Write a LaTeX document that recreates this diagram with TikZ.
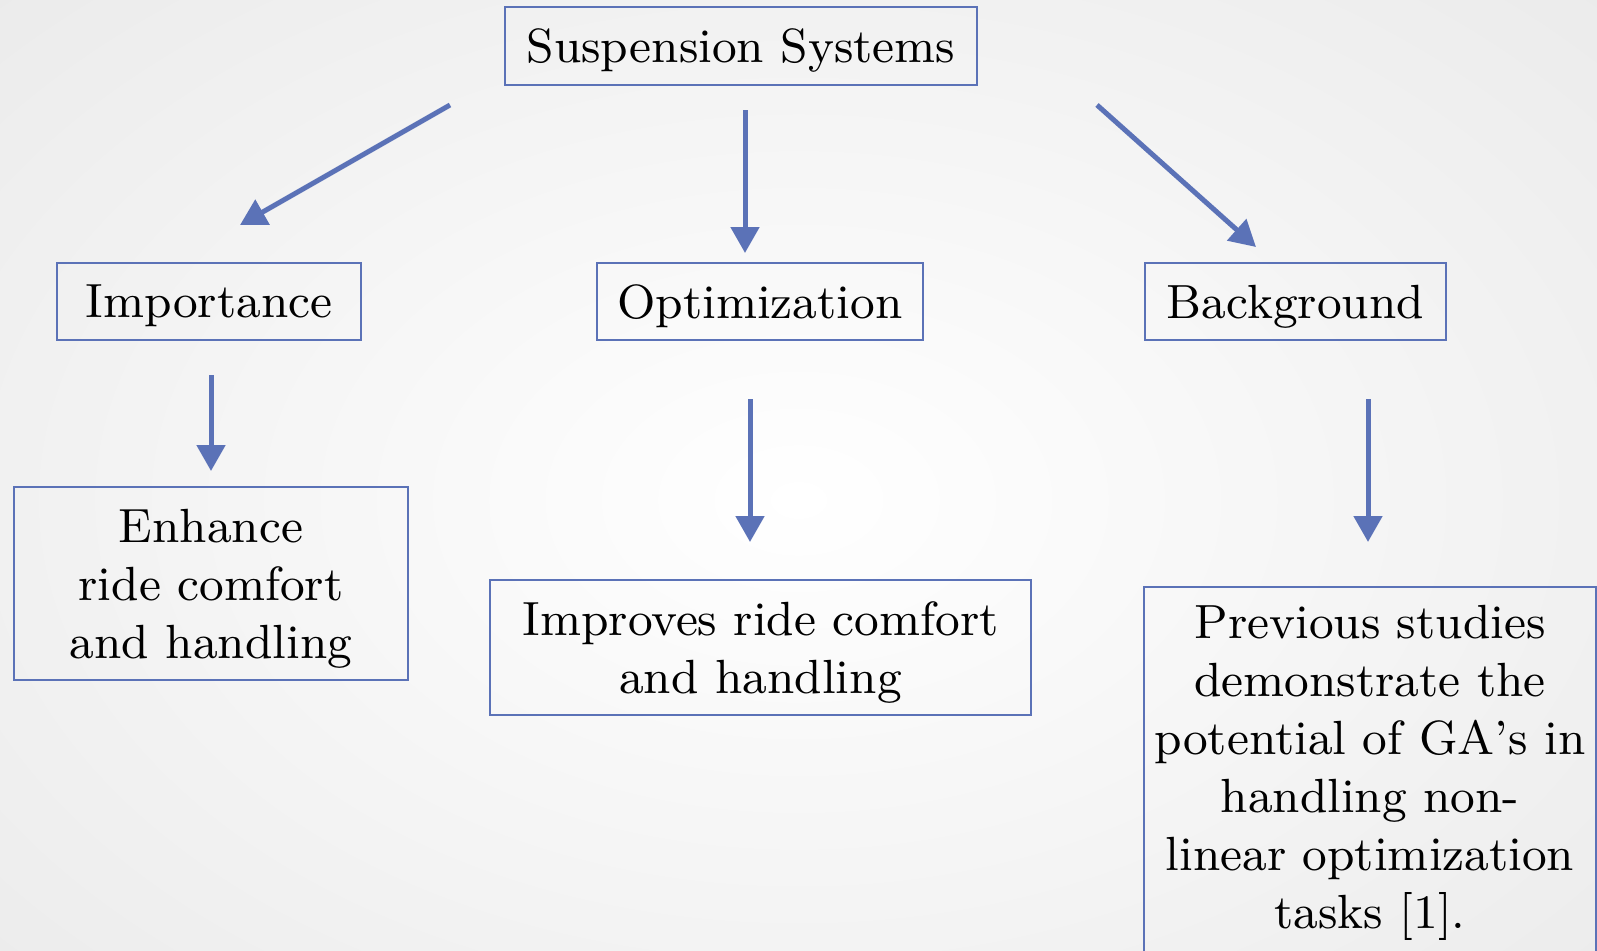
\documentclass[tikz,border=0pt]{standalone}
\usepackage{fontspec}
\newfontfamily\boxfont{lmroman9-regular.otf}
\usetikzlibrary{arrows.meta}
\definecolor{sblue}{RGB}{91,114,183}
\begin{document}
\begin{tikzpicture}[x=1pt,y=-1pt,
  boxnode/.style={draw=sblue, line width=1.6pt, inner sep=0pt, align=center, text depth=0pt,
    font=\boxfont\fontsize{48}{58}\selectfont},
  txt/.style={inner sep=0pt, align=center, font=\boxfont\fontsize{48}{58}\selectfont},
  conn/.style={draw=sblue, line width=5pt, -{Triangle[length=26pt,width=28pt]}}]
\useasboundingbox (0,0) rectangle (1597,950);
\shade[inner color=white, outer color=black!8] (-350,-250) rectangle (1947,1250);
% boxes
\node[boxnode, minimum width=472pt, minimum height=78pt] (top) at (741,46) {Suspension Systems};
\node[boxnode, minimum width=304pt, minimum height=77pt] (imp) at (209,301.5) {Importance};
\node[boxnode, minimum width=326pt, minimum height=77pt] (opt) at (760,301.5) {Optimization};
\node[boxnode, minimum width=301pt, minimum height=77pt] (bg) at (1295.5,301.5) {Background};
\node[boxnode, minimum width=394pt, minimum height=193pt] (enh) at (211,583.5) {Enhance\\ ride comfort\\ and handling};
\node[boxnode, minimum width=541pt, minimum height=135pt] (impr) at (760.5,647.5) {Improves ride comfort\\ and handling};
\node[draw=sblue, line width=1.6pt, inner sep=0pt, minimum width=452pt, minimum height=420pt, anchor=north] (prev) at (1370,586) {};
\node[txt] (prevtext) at (1370,773) {Previous studies\\ demonstrate the\\ potential of GA’s in\\ handling non-\\ linear optimization\\ tasks [1].};
% arrow end points
\coordinate (a1s) at (450,105); \coordinate (a1e) at (240,225);
\coordinate (a2s) at (745,110); \coordinate (a2e) at (745,253);
\coordinate (a3s) at (1097,105); \coordinate (a3e) at (1256,247);
\coordinate (a4s) at (211,375); \coordinate (a4e) at (211,471);
\coordinate (a5s) at (750,399); \coordinate (a5e) at (750,542);
\coordinate (a6s) at (1368,399); \coordinate (a6e) at (1368,542);
\draw[conn] (a1s) -- (a1e);
\draw[conn] (a2s) -- (a2e);
\draw[conn] (a3s) -- (a3e);
\draw[conn] (a4s) -- (a4e);
\draw[conn] (a5s) -- (a5e);
\draw[conn] (a6s) -- (a6e);
\end{tikzpicture}
\end{document}
